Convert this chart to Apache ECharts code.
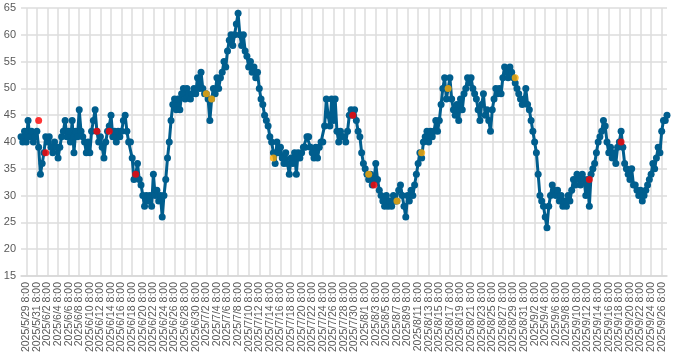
<!DOCTYPE html>
<html>
<head>
<meta charset="utf-8">
<script src="https://cdn.jsdelivr.net/npm/echarts@6/dist/echarts.min.js"></script>
<style>html,body{margin:0;padding:0;background:#fff}#c{width:700px;height:358px}</style>
</head>
<body>
<div id="c"></div>
<script>
// Series start time and step (8 hours)
const startUTC = Date.UTC(2025, 4, 28, 8);
const stepHours = 8;

// Main series values, 3 per day (8:00, 16:00, 0:00), starting 2025/5/28 8:00
const values = [
  41,40,42, 40,44,41, 42,40,41, 42,39,34, 36,38,41, 40,41,39, 38,40,39, 37,39,41,
  42,44,41, 42,40,44, 38,42,41, 46,42,41, 40,38,40, 38,42,44, 46,42,40, 41,39,37,
  40,42,43, 45,41,42, 40,42,41, 42,44,45, 42,40,40, 37,33,34, 36,33,32, 30,28,30,
  29,30,28, 34,30,31, 29,30,26, 30,33,37, 40,44,47, 48,46,48, 46,49,50, 48,50,49,
  48,49,50, 49,52,50, 53,50,49, 49,48,44, 48,50,49, 52,50,52, 53,55,54, 57,59,60,
  58,60,62, 64,60,58, 60,57,56, 54,55,53, 54,52,53, 50,48,47, 45,44,43, 41,40,38,
  36,40,38, 39,37,36, 38,36,34, 37,36,38, 34,38,37, 38,39,39, 41,41,39, 38,37,39,
  37,39,40, 40,43,48, 45,43,48, 44,48,42, 40,42,41, 41,40,42, 45,46,45, 46,44,42,
  41,38,36, 35,34,33, 34,32,33, 36,33,31, 30,29,28, 30,28,29, 28,30,29, 29,31,32,
  30,28,26, 30,29,31, 30,32,34, 36,38,37, 40,41,42, 40,42,41, 42,44,42, 44,47,50,
  52,48,50, 52,48,46, 45,47,44, 48,46,49, 50,52,51, 52,50,49, 48,46,44, 47,49,45,
  46,44,42, 46,48,50, 49,50,49, 52,54,53, 52,54,53, 52,51,50, 49,48,47, 48,50,47,
  46,44,42, 40,38,34, 30,29,28, 26,24,28, 30,32,31, 30,31,29, 30,28,29, 28,30,29,
  31,33,32, 34,33,32, 34,33,30, 33,28,34, 35,36,38, 40,41,42, 44,43,40, 38,39,37,
  38,36,39, 40,42,39, 36,35,34, 33,35,32, 32,31,30, 31,29,30, 31,32,33, 34,36,35,
  37,39,38, 42,44,44, 45
];

// Highlighted points
const redPoints = [
  ['2025/5/31 16:00', 44], ['2025/6/2 0:00', 38], ['2025/6/11 16:00', 42],
  ['2025/6/14 0:00', 42], ['2025/6/19 0:00', 34], ['2025/7/30 0:00', 45],
  ['2025/8/3 0:00', 32], ['2025/9/12 16:00', 33], ['2025/9/18 16:00', 40]
];
const orangePoints = [
  ['2025/7/2 8:00', 49], ['2025/7/3 8:00', 48], ['2025/7/15 0:00', 37],
  ['2025/8/2 0:00', 34], ['2025/8/7 8:00', 29], ['2025/8/12 0:00', 38],
  ['2025/8/17 0:00', 50], ['2025/8/29 16:00', 52]
];

// X-axis tick labels
const tickLabels = [
  '2025/5/29 8:00','2025/5/31 8:00','2025/6/2 8:00','2025/6/4 8:00','2025/6/6 8:00',
  '2025/6/8 8:00','2025/6/10 8:00','2025/6/12 8:00','2025/6/14 8:00','2025/6/16 8:00',
  '2025/6/18 8:00','2025/6/20 8:00','2025/6/22 8:00','2025/6/24 8:00','2025/6/26 8:00',
  '2025/6/28 8:00','2025/6/30 8:00','2025/7/2 8:00','2025/7/4 8:00','2025/7/6 8:00',
  '2025/7/8 8:00','2025/7/10 8:00','2025/7/12 8:00','2025/7/14 8:00','2025/7/16 8:00',
  '2025/7/18 8:00','2025/7/20 8:00','2025/7/22 8:00','2025/7/24 8:00','2025/7/26 8:00',
  '2025/7/28 8:00','2025/7/30 8:00','2025/8/1 8:00','2025/8/3 8:00','2025/8/5 8:00',
  '2025/8/7 8:00','2025/8/9 8:00','2025/8/11 8:00','2025/8/13 8:00','2025/8/15 8:00',
  '2025/8/17 8:00','2025/8/19 8:00','2025/8/21 8:00','2025/8/23 8:00','2025/8/25 8:00',
  '2025/8/27 8:00','2025/8/29 8:00','2025/8/31 8:00','2025/9/2 8:00','2025/9/4 8:00',
  '2025/9/6 8:00','2025/9/8 8:00','2025/9/10 8:00','2025/9/12 8:00','2025/9/14 8:00',
  '2025/9/16 8:00','2025/9/18 8:00','2025/9/20 8:00','2025/9/22 8:00','2025/9/24 8:00',
  '2025/9/26 8:00'
];
const yTicks = [15, 20, 25, 30, 35, 40, 45, 50, 55, 60, 65];

// Build category timeline
const categories = values.map((v, i) => {
  const d = new Date(startUTC + i * stepHours * 3600000);
  return d.getUTCFullYear() + '/' + (d.getUTCMonth() + 1) + '/' + d.getUTCDate() + ' ' + d.getUTCHours() + ':00';
});
const tickSet = new Set(tickLabels);
const showTick = (idx, val) => tickSet.has(categories[idx]);
const toPairs = pts => pts.map(p => [categories.indexOf(p[0]), p[1]]);

const font = 'Liberation Sans, Arial, sans-serif';
const chart = echarts.init(document.getElementById('c'), null, {renderer: 'canvas'});
chart.setOption({
  animation: false,
  backgroundColor: '#fff',
  grid: {left: 21, right: 33, top: 8, bottom: 82, containLabel: false},
  xAxis: {
    type: 'category',
    data: categories,
    boundaryGap: false,
    axisLine: {show: true, lineStyle: {color: '#d6d6d6', width: 1.5}},
    axisTick: {show: false},
    axisLabel: {
      interval: 0, rotate: 90, fontSize: 10.5, lineHeight: 10, color: '#595959',
      fontFamily: font, margin: 6, hideOverlap: false,
      formatter: (val) => tickSet.has(val) ? val : ''
    },
    splitLine: {show: true, interval: showTick, lineStyle: {color: '#dcdcdc', width: 1.5}}
  },
  yAxis: {
    type: 'value',
    min: yTicks[0], max: yTicks[yTicks.length - 1], interval: 5,
    axisLine: {show: false},
    axisTick: {show: false},
    axisLabel: {fontSize: 11, color: '#595959', fontFamily: font, margin: 5},
    splitLine: {show: true, lineStyle: {color: '#dcdcdc', width: 1.5}}
  },
  series: [
    {
      type: 'line', data: values, showAllSymbol: true,
      symbol: 'circle', symbolSize: 7,
      lineStyle: {color: '#005e8e', width: 3},
      itemStyle: {color: '#005e8e'},
      z: 2
    },
    {
      type: 'scatter', data: toPairs(redPoints), symbol: 'circle', symbolSize: 7,
      itemStyle: {color: '#ff0000'}, z: 3
    },
    {
      type: 'scatter', data: toPairs(orangePoints), symbol: 'circle', symbolSize: 7,
      itemStyle: {color: '#ffaa00'}, z: 3
    }
  ]
});
</script>
</body>
</html>
